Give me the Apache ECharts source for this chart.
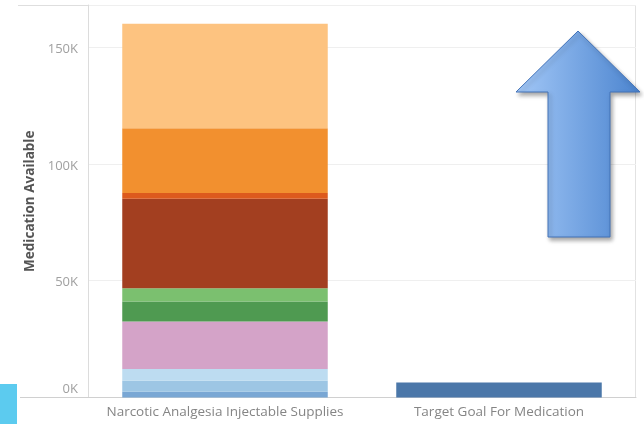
<!DOCTYPE html>
<html><head><meta charset="utf-8">
<script src="https://cdn.jsdelivr.net/npm/echarts@6/dist/echarts.min.js"></script>
<style>html,body{margin:0;padding:0;background:#fff}#c{width:644px;height:424px}</style>
</head><body><div id="c"></div>
<script>
const categories = ['Narcotic Analgesia Injectable Supplies', 'Target Goal For Medication'];
// stacked segments of the supplies bar, bottom to top
const segmentValues = [2500, 4700, 5000, 20300, 8600, 5700, 38300, 2400, 27700, 44800];
const segmentColors = ['#79a7d4', '#9dc6e4', '#bddcf1', '#d4a3c8', '#4f9a51', '#7bc06f', '#a33f20', '#dd5a1d', '#f2902f', '#fdc380'];
const targetValue = 6400;
const yTicks = [0, 50000, 100000, 150000];

const series = segmentValues.map((v, i) => ({
  type: 'bar', stack: 's', barWidth: '75%',
  data: [v, '-'],
  itemStyle: { color: segmentColors[i] },
  emphasis: { disabled: true }
}));
series.push({
  type: 'bar', stack: 's', barWidth: '75%',
  data: ['-', targetValue],
  itemStyle: { color: '#4b77a9' },
  emphasis: { disabled: true }
});

const chart = echarts.init(document.getElementById('c'), null, { renderer: 'canvas' });
chart.setOption({
  animation: false,
  grid: { left: 88, right: 8, top: 5, bottom: 26.5, containLabel: false },
  xAxis: {
    type: 'category', data: categories,
    axisLine: { lineStyle: { color: '#d0d0d0' } },
    axisTick: { show: false },
    axisLabel: { color: '#858585', fontSize: 13.5, fontFamily: 'Open Sans', margin: 8, interval: 0 }
  },
  yAxis: {
    type: 'value', min: 0, max: 168000, interval: 50000,
    name: 'Medication Available', nameLocation: 'middle', nameGap: 48,
    nameTextStyle: { color: '#555', fontSize: 13.5, fontWeight: 'bold', fontFamily: 'Open Sans' },
    axisLine: { show: true, lineStyle: { color: '#dcdcdc' } },
    axisTick: { show: false },
    axisLabel: {
      color: '#a0a0a0', fontSize: 13, fontFamily: 'Open Sans', margin: 10,
      formatter: v => v === 0 ? '{z|0K}' : (yTicks.includes(v) ? '{n|' + (v / 1000) + 'K}' : ''),
      rich: {
        z: { color: '#a0a0a0', fontSize: 13, fontFamily: 'Open Sans', padding: [0, 0, 16, 0] },
        n: { color: '#a0a0a0', fontSize: 13, fontFamily: 'Open Sans', padding: [4, 0, 0, 0] }
      }
    },
    splitLine: { lineStyle: { color: '#efefef' } }
  },
  series: series,
  graphic: [
    { type: 'line', shape: { x1: 18, y1: 5.5, x2: 636, y2: 5.5 }, style: { stroke: '#dedede', lineWidth: 1 }, silent: true },
    { type: 'line', shape: { x1: 20, y1: 397.5, x2: 88, y2: 397.5 }, style: { stroke: '#d0d0d0', lineWidth: 1 }, silent: true },
    { type: 'line', shape: { x1: 635.5, y1: 5, x2: 635.5, y2: 397.5 }, style: { stroke: '#e2e2e2', lineWidth: 1 }, silent: true },
    { type: 'rect', shape: { x: 0, y: 384, width: 17, height: 40 }, style: { fill: '#5ccbef' }, silent: true },
    {
      type: 'polygon', silent: true, z: 100,
      shape: { points: [[578, 31], [640, 92], [610, 92], [610, 237], [548, 237], [548, 92], [516, 92]] },
      style: {
        fill: new echarts.graphic.LinearGradient(0, 0, 1, 0, [
          { offset: 0, color: '#a3c8f7' }, { offset: 1, color: '#4b84cf' }
        ]),
        stroke: '#4272b8', lineWidth: 1,
        shadowColor: 'rgba(0,0,0,0.35)', shadowBlur: 4, shadowOffsetX: 2, shadowOffsetY: 3
      }
    }
  ]
});
</script></body></html>
